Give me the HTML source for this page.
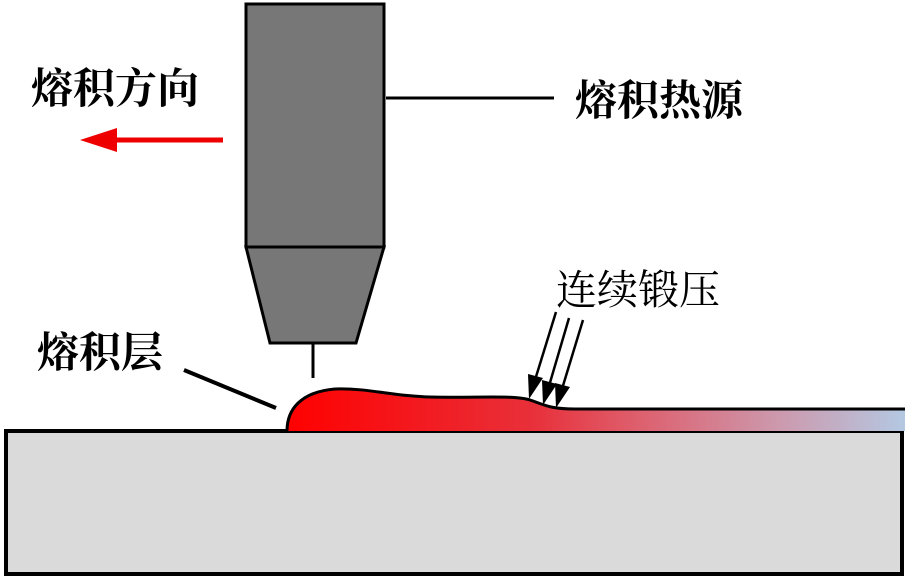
<!DOCTYPE html>
<html><head><meta charset="utf-8"><style>
html,body{margin:0;padding:0;background:#fff;width:905px;height:579px;overflow:hidden}
svg{display:block}
text{font-family:"Liberation Serif","Noto Serif CJK SC",serif;fill:#000}
</style></head><body>
<svg width="905" height="579" viewBox="0 0 905 579" xmlns="http://www.w3.org/2000/svg">
<defs>
<linearGradient id="g" x1="285" y1="0" x2="905" y2="0" gradientUnits="userSpaceOnUse">
<stop offset="0" stop-color="#ff0000"/>
<stop offset="0.4" stop-color="#e8303a"/>
<stop offset="0.55" stop-color="#df5a68"/>
<stop offset="0.8" stop-color="#cc9aae"/>
<stop offset="1" stop-color="#b4c8e2"/>
</linearGradient>
</defs>
<rect x="6" y="431" width="896" height="143" fill="#dadada" stroke="#000" stroke-width="4"/>
<path d="M287,431 C287,410 300,392 335,389 C370,388 390,396 430,397 C480,398 515,395 530,400 C545,405 550,409 575,409 L905,409 L905,431 Z" fill="url(#g)"/>
<path d="M287,431 C287,410 300,392 335,389 C370,388 390,396 430,397 C480,398 515,395 530,400 C545,405 550,409 575,409 L905,409" fill="none" stroke="#000" stroke-width="3"/>
<rect x="246" y="4" width="138" height="243" fill="#777" stroke="#000" stroke-width="3"/>
<polygon points="246,247 384,247 356,343 270,343" fill="#777" stroke="#000" stroke-width="3"/>
<line x1="313" y1="343" x2="313" y2="378" stroke="#000" stroke-width="3"/>
<line x1="386" y1="98" x2="554" y2="98" stroke="#000" stroke-width="3"/>
<line x1="184" y1="370" x2="276" y2="408" stroke="#000" stroke-width="4"/>
<line x1="223" y1="140" x2="105" y2="140" stroke="#e00" stroke-width="5"/>
<polygon points="80,140 117,128 117,152" fill="#e00"/>
<g stroke="#000" stroke-width="2.5" fill="#000">
<line x1="556" y1="312" x2="535" y2="380"/>
<line x1="569" y1="318" x2="549" y2="386"/>
<line x1="583" y1="320" x2="562" y2="389"/>
</g>
<polygon points="529,399 528,374 543,378" fill="#000"/>
<polygon points="543,405 542,380 557,384" fill="#000"/>
<polygon points="556,408 555,383 570,387" fill="#000"/>
<text x="31" y="103" font-size="42" font-weight="bold">熔积方向</text>
<text x="575" y="115" font-size="42" font-weight="bold">熔积热源</text>
<text x="37" y="367" font-size="42" font-weight="bold">熔积层</text>
<text x="556" y="304" font-size="41">连续锻压</text>
</svg>
</body></html>
